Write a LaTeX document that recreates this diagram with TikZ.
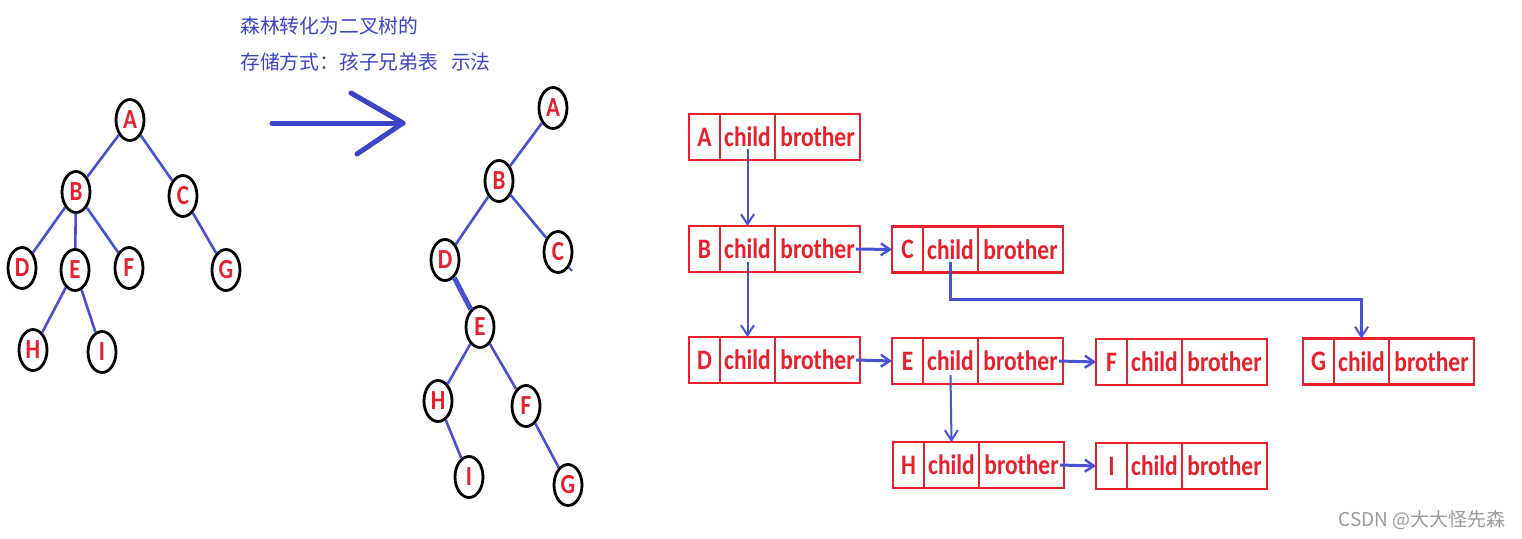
\documentclass[tikz,border=0pt]{standalone}
\usepackage{graphicx}
\usepackage{fontspec}
\setmainfont{Carlito}
\newfontfamily\cjk{Noto Sans CJK SC}
\usetikzlibrary{arrows.meta,shapes.geometric}
\definecolor{eblue}{HTML}{4652D2}
\definecolor{tblue}{HTML}{3B44C8}
\definecolor{bred}{HTML}{E8202E}
\definecolor{wgray}{HTML}{9A9A9A}
\newcommand\st[1]{\scalebox{1}[1.2]{#1}}
\newcommand\rbox[4]{%
  \node[cell,minimum width=31pt,anchor=west] (#1l) at (#3,#4) {\st{#2}};
  \node[cell,minimum width=55pt,anchor=west] (#1c) at (#1l.east) {\st{child}};
  \node[cell,minimum width=85pt,anchor=west] (#1b) at (#1c.east) {\st{brother}};
}
\begin{document}
\begin{tikzpicture}[x=1pt,y=-1pt,
  tn/.style={ellipse,draw=black,line width=2.8pt,fill=white,minimum width=28pt,minimum height=41pt,inner sep=0pt,text=bred,font=\fontsize{23}{23}\selectfont\bfseries},
  edge/.style={draw=eblue,line width=2.6pt},
  cell/.style={rectangle,draw=bred,line width=2.6pt,minimum height=46pt,inner sep=0pt,outer sep=0pt,text=bred,font=\fontsize{23.5}{23.5}\selectfont\bfseries},
  conn/.style={draw=eblue,line width=2pt,-{Straight Barb[length=10pt,width=13pt,line width=2pt]}},
  hconn/.style={draw=eblue,line width=3pt,-{Straight Barb[length=9pt,width=12pt,line width=2.4pt]}},
  title/.style={text=tblue,anchor=west,inner sep=0pt,font=\cjk\fontsize{19.8}{19.8}\selectfont},
  big/.style={draw=tblue,line width=5pt,line cap=round,line join=round}]
\useasboundingbox[fill=white] (0,0) rectangle (1522,538);

% ---------- title ----------
\node[title] (t1) at (240,26) {森林转化为二叉树的};
\node[title] (t2) at (240,62) {存储方式：孩子兄弟表\hspace{13pt}示法};

% ---------- big arrow ----------
\coordinate (arS) at (272,123);
\coordinate (arE) at (403,123);
\coordinate (arU) at (351,93);
\coordinate (arD) at (357,154);
\draw[big] (arS) -- (arE);
\draw[big] (arU) -- (arE) -- (arD);

% ---------- left tree (forest) ----------
\node[tn] (A) at (130,120) {\st{A}};
\node[tn] (B) at (76,192) {\st{B}};
\node[tn] (C) at (183,196) {\st{C}};
\node[tn] (D) at (22,268) {\st{D}};
\node[tn] (E) at (75,270) {\st{E}};
\node[tn] (F) at (129,268) {\st{F}};
\node[tn] (G) at (226,270) {\st{G}};
\node[tn] (H) at (33,350) {\st{H}};
\node[tn] (I) at (102,352) {\st{I}};
\draw[edge] (A) -- (B);
\draw[edge] (A) -- (C);
\draw[edge] (B) -- (D);
\draw[edge] (B) -- (E);
\draw[edge] (B) -- (F);
\draw[edge] (C) -- (G);
\draw[edge] (E) -- (H);
\draw[edge] (E) -- (I);

% ---------- middle tree (binary) ----------
\node[tn] (mA) at (553,108) {\st{A}};
\node[tn] (mB) at (499,181) {\st{B}};
\node[tn] (mC) at (558,252) {\st{C}};
\node[tn] (mD) at (445,260) {\st{D}};
\node[tn] (mE) at (480,327) {\st{E}};
\node[tn] (mH) at (438,401) {\st{H}};
\node[tn] (mF) at (526,406) {\st{F}};
\node[tn] (mI) at (469,477) {\st{I}};
\node[tn] (mG) at (568,485) {\st{G}};
\coordinate (mCs) at (572,271);
\draw[edge] (mA) -- (mB);
\draw[edge] (mB) -- (mD);
\draw[edge] (mB) -- (mC);
\draw[edge,line width=5pt] (mD) -- (mE);
\draw[edge] (mE) -- (mH);
\draw[edge] (mE) -- (mF);
\draw[edge] (mH) -- (mI);
\draw[edge] (mF) -- (mG);
\draw[edge,line width=2pt] (mC.south east) -- (mCs);

% ---------- child-brother storage ----------
\rbox{a}{A}{689}{137}
\rbox{b}{B}{689}{249}
\rbox{c}{C}{892}{249.5}
\rbox{d}{D}{689}{360}
\rbox{e}{E}{892}{361}
\rbox{f}{F}{1096}{362}
\rbox{g}{G}{1303}{361.5}
\rbox{h}{H}{893}{465}
\rbox{i}{I}{1096}{466}

\draw[conn] ([yshift=11pt]ac.south) -- (bc.north);
\draw[conn] ([yshift=10pt]bc.south) -- (dc.north);
\draw[hconn] ([xshift=-4pt]bb.east) -- (cl.west);
\draw[hconn] ([xshift=-4pt]db.east) -- (el.west);
\draw[hconn] ([xshift=-4pt]eb.east) -- (fl.west);
\draw[hconn] ([xshift=-4pt]hb.east) -- (il.west);
\draw[conn] ([yshift=9pt]ec.south) -- (hc.north);
\draw[conn,line width=3pt] ([yshift=11pt]cc.south) |- ([yshift=39pt]gc.north) -- (gc.north);

% ---------- watermark ----------
\node[text=wgray,anchor=east,inner sep=0pt,font=\cjk\fontsize{19}{19}\selectfont] (wm) at (1506,520) {CSDN @大大怪先森};
\end{tikzpicture}
\end{document}
